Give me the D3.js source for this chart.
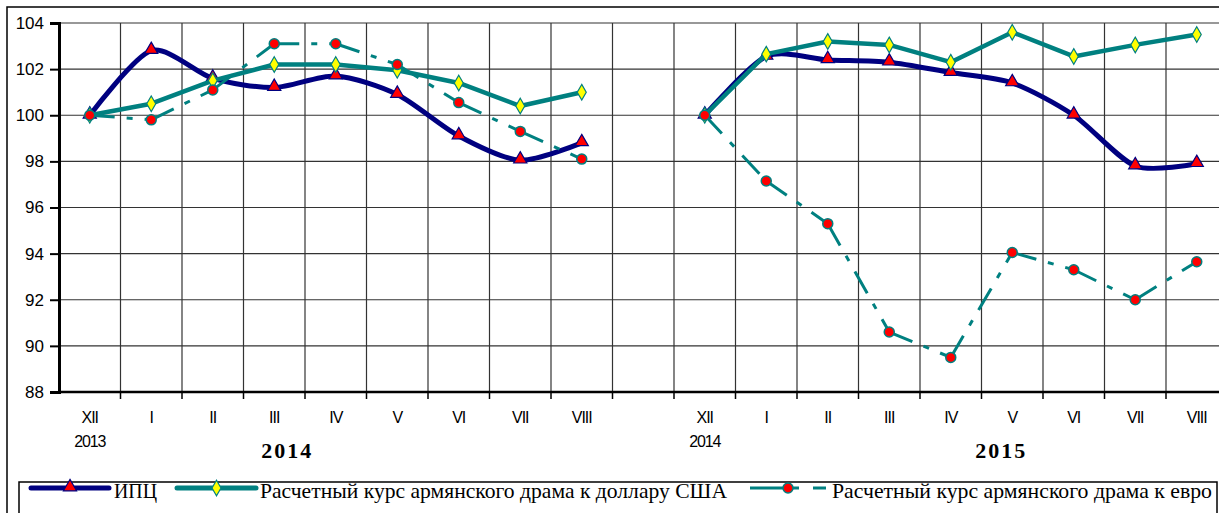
<!DOCTYPE html>
<html>
<head>
<meta charset="utf-8">
<script src="https://cdn.jsdelivr.net/npm/d3@7"></script>
<style>
  body { margin: 0; background: #fff; overflow: hidden; }
  svg { display: block; }
</style>
</head>
<body>
<div id="viz"></div>
<script>
'use strict';

// categories: two 9-month windows separated by an empty slot
const categories = [
  'XII-13', 'I-14', 'II-14', 'III-14', 'IV-14', 'V-14', 'VI-14', 'VII-14', 'VIII-14',
  'gap',
  'XII-14', 'I-15', 'II-15', 'III-15', 'IV-15', 'V-15', 'VI-15', 'VII-15', 'VIII-15'
];
const monthLabels = [
  'XII', 'I', 'II', 'III', 'IV', 'V', 'VI', 'VII', 'VIII',
  '',
  'XII', 'I', 'II', 'III', 'IV', 'V', 'VI', 'VII', 'VIII'
];
const baseYearLabels = {'XII-13': '2013', 'XII-14': '2014'};
const yearLabels = ['2014', '2015'];

const cpi = [100, 102.8, 101.6, 101.2, 101.7, 100.9, 99.1, 98.05, 98.8, null,
             100, 102.55, 102.4, 102.3, 101.85, 101.4, 100.0, 97.8, 97.9];
const usd = [100, 100.5, 101.5, 102.2, 102.2, 101.95, 101.4, 100.4, 101.0, null,
             100, 102.65, 103.2, 103.05, 102.3, 103.6, 102.55, 103.05, 103.5];
const eur = [100, 99.8, 101.1, 103.1, 103.1, 102.2, 100.55, 99.3, 98.1, null,
             100, 97.15, 95.3, 90.6, 89.5, 94.05, 93.3, 92.0, 93.65];

const yTicks = [88, 90, 92, 94, 96, 98, 100, 102, 104];

const legendNames = [
  'ИПЦ',
  'Расчетный курс армянского драма к доллару США',
  'Расчетный курс армянского драма к евро'
];

const W = 1219, H = 513;
const margin = {top: 23, left: 59};
const bandW = 61.5;
const plotW = bandW * categories.length;
const plotH = 369;

const svg = d3.select('#viz').append('svg')
  .attr('width', W)
  .attr('height', H);

// outer frame
svg.append('rect')
  .attr('x', 7).attr('y', 7)
  .attr('width', W).attr('height', H)
  .attr('fill', 'none')
  .attr('stroke', '#000')
  .attr('stroke-width', 1.5);

const g = svg.append('g')
  .attr('transform', `translate(${margin.left},${margin.top})`);

const x = d3.scaleBand()
  .domain(categories)
  .range([0, plotW])
  .padding(0);

const y = d3.scaleLinear()
  .domain([88, 104])
  .range([plotH, 0]);

const cx = (i) => x(categories[i]) + x.bandwidth() / 2;

// horizontal grid
g.append('g')
  .selectAll('line')
  .data(yTicks.filter(v => v > 88))
  .join('line')
    .attr('x1', 0).attr('x2', plotW)
    .attr('y1', d => y(d)).attr('y2', d => y(d))
    .attr('stroke', '#333')
    .attr('stroke-width', 1.2);

// vertical grid at category boundaries
g.append('g')
  .selectAll('line')
  .data(categories.slice(1))
  .join('line')
    .attr('x1', d => x(d)).attr('x2', d => x(d))
    .attr('y1', 0).attr('y2', plotH)
    .attr('stroke', '#333')
    .attr('stroke-width', 1.2);

// Y axis
const yAxis = g.append('g')
  .call(d3.axisLeft(y).tickValues(yTicks).tickSize(9).tickPadding(6).tickFormat(d3.format('d')));
yAxis.select('.domain').attr('stroke-width', 3);
yAxis.selectAll('.tick line').attr('stroke-width', 2);
yAxis.selectAll('text')
  .attr('font-family', 'Liberation Sans, Arial, sans-serif')
  .attr('font-size', 17)
  .attr('fill', '#000');

// X axis line + tick marks at boundaries
g.append('line')
  .attr('x1', 0).attr('x2', plotW)
  .attr('y1', plotH).attr('y2', plotH)
  .attr('stroke', '#000')
  .attr('stroke-width', 2.5);

g.append('g')
  .selectAll('line')
  .data(categories.slice(1))
  .join('line')
    .attr('x1', d => x(d)).attr('x2', d => x(d))
    .attr('y1', plotH).attr('y2', plotH + 7)
    .attr('stroke', '#000')
    .attr('stroke-width', 1.5);

// month labels
g.append('g')
  .selectAll('text')
  .data(categories)
  .join('text')
    .attr('x', (d, i) => cx(i))
    .attr('y', plotH + 31)
    .attr('text-anchor', 'middle')
    .attr('font-family', 'Liberation Sans, Arial, sans-serif')
    .attr('font-size', 16)
    .attr('letter-spacing', -1)
    .text((d, i) => monthLabels[i]);

// base year labels under XII
g.append('g')
  .selectAll('text')
  .data(Object.keys(baseYearLabels))
  .join('text')
    .attr('x', d => x(d) + x.bandwidth() / 2)
    .attr('y', plotH + 55)
    .attr('text-anchor', 'middle')
    .attr('font-family', 'Liberation Sans, Arial, sans-serif')
    .attr('font-size', 16)
    .attr('letter-spacing', -1.2)
    .text(d => baseYearLabels[d]);

// big year labels
const yearPos = [3.71, 15.32];
g.append('g')
  .selectAll('text')
  .data(yearLabels)
  .join('text')
    .attr('x', (d, i) => yearPos[i] * x.bandwidth())
    .attr('y', plotH + 66)
    .attr('text-anchor', 'middle')
    .attr('font-family', 'Liberation Serif, Times New Roman, serif')
    .attr('font-weight', 'bold')
    .attr('font-size', 22)
    .attr('letter-spacing', 2)
    .text(d => d);

// series
const toPoints = (arr) => arr.map((v, i) => ({i, v}));

const cpiLine = d3.line()
  .defined(d => d.v != null)
  .x(d => cx(d.i))
  .y(d => y(d.v))
  .curve(d3.curveCardinal.tension(0.2));

const straight = d3.line()
  .defined(d => d.v != null)
  .x(d => cx(d.i))
  .y(d => y(d.v));

const NAVY = '#000080';
const TEAL = '#008080';

const triangle = d3.symbol().type(d3.symbolTriangle).size(75);
const diamond = d3.symbol().type(d3.symbolDiamond).size(70);

// CPI
g.append('path')
  .datum(toPoints(cpi))
  .attr('fill', 'none')
  .attr('stroke', NAVY)
  .attr('stroke-width', 5)
  .attr('stroke-linejoin', 'round')
  .attr('d', cpiLine);

g.append('g')
  .selectAll('path')
  .data(toPoints(cpi).filter(d => d.v != null))
  .join('path')
    .attr('transform', d => `translate(${cx(d.i)},${y(d.v) - 1})`)
    .attr('d', triangle)
    .attr('fill', '#ff0000')
    .attr('stroke', NAVY)
    .attr('stroke-width', 1.2);

// USD
g.append('path')
  .datum(toPoints(usd))
  .attr('fill', 'none')
  .attr('stroke', TEAL)
  .attr('stroke-width', 4.5)
  .attr('stroke-linejoin', 'round')
  .attr('d', straight);

g.append('g')
  .selectAll('path')
  .data(toPoints(usd).filter(d => d.v != null))
  .join('path')
    .attr('transform', d => `translate(${cx(d.i)},${y(d.v)})`)
    .attr('d', diamond)
    .attr('fill', '#ffff00')
    .attr('stroke', TEAL)
    .attr('stroke-width', 1.2);

// EUR: dash pattern restarts at every point, so each segment gets its own path
const EUR_DASH = '25,12,6,12';
const eurPts = toPoints(eur);
const eurSegs = d3.pairs(eurPts).filter(([a, b]) => a.v != null && b.v != null);

g.append('g')
  .selectAll('path')
  .data(eurSegs)
  .join('path')
    .attr('fill', 'none')
    .attr('stroke', TEAL)
    .attr('stroke-width', 3)
    .attr('stroke-dasharray', EUR_DASH)
    .attr('d', d => straight(d));

g.append('g')
  .selectAll('circle')
  .data(eurPts.filter(d => d.v != null))
  .join('circle')
    .attr('cx', d => cx(d.i))
    .attr('cy', d => y(d.v))
    .attr('r', 5)
    .attr('fill', '#ff0000')
    .attr('stroke', TEAL)
    .attr('stroke-width', 1.5);

// legend
const legend = svg.append('g');
legend.append('rect')
  .attr('x', 19).attr('y', 482)
  .attr('width', 1198).attr('height', 60)
  .attr('fill', '#fff')
  .attr('stroke', '#000')
  .attr('stroke-width', 1.5);

const ly = 488;
const legendItems = [
  {x0: 31, x1: 109, tx: 114, tw: 43},
  {x0: 177, x1: 256, tx: 260, tw: 467},
  {x0: 750, x1: 826, tx: 832, tw: 380}
];

legendItems.forEach((it, k) => {
  const mid = (it.x0 + it.x1) / 2;
  const ln = legend.append('line')
    .attr('x1', it.x0).attr('x2', it.x1)
    .attr('y1', ly).attr('y2', ly)
    .attr('stroke', k === 0 ? NAVY : TEAL)
    .attr('stroke-width', k === 2 ? 3 : 5)
    .attr('stroke-linecap', k === 2 ? 'butt' : 'round');
  if (k === 2) ln.attr('stroke-dasharray', '49,14,13');

  if (k === 0) {
    legend.append('path')
      .attr('transform', `translate(${mid},${ly - 1})`)
      .attr('d', triangle)
      .attr('fill', '#ff0000')
      .attr('stroke', NAVY)
      .attr('stroke-width', 1.2);
  } else if (k === 1) {
    legend.append('path')
      .attr('transform', `translate(${mid},${ly})`)
      .attr('d', diamond)
      .attr('fill', '#ffff00')
      .attr('stroke', TEAL)
      .attr('stroke-width', 1.2);
  } else {
    legend.append('circle')
      .attr('cx', 788).attr('cy', ly)
      .attr('r', 5)
      .attr('fill', '#ff0000')
      .attr('stroke', TEAL)
      .attr('stroke-width', 1.5);
  }

  legend.append('text')
    .attr('x', it.tx)
    .attr('y', 498)
    .attr('font-family', 'Liberation Serif, Times New Roman, serif')
    .attr('font-size', 21)
    .attr('textLength', it.tw)
    .attr('lengthAdjust', 'spacingAndGlyphs')
    .text(legendNames[k]);
});
</script>
</body>
</html>
